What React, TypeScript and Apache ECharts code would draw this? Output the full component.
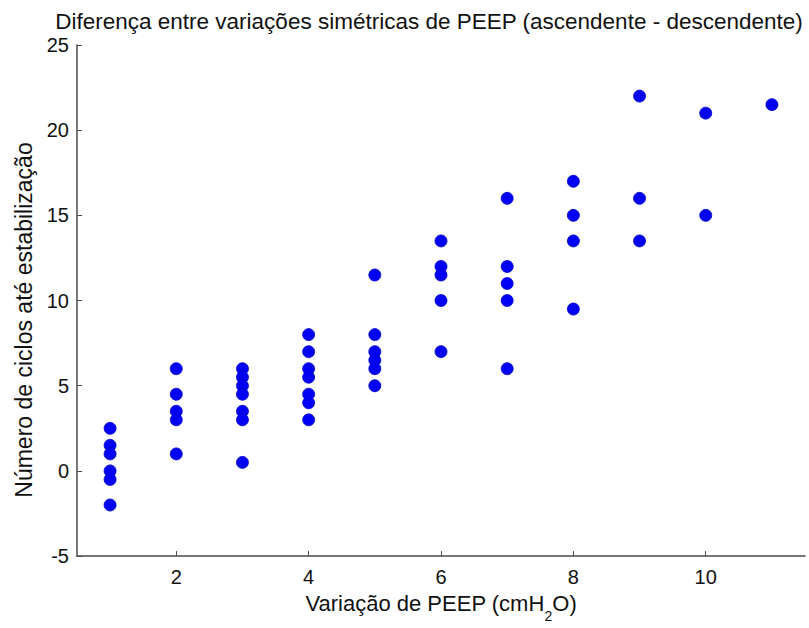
import React, { useEffect, useRef } from "react";
import * as echarts from "echarts";

const peepVariation = [1, 2, 3, 4, 5, 6, 7, 8, 9, 10, 11];
const cycles1 = [2.5, 1.5, 1, 0, -0.5, -2];
const cycles2 = [6, 4.5, 3.5, 3, 1];
const cycles3 = [6, 5.5, 5, 4.5, 3.5, 3, 0.5];
const cycles4 = [8, 7, 6, 5.5, 4.5, 4, 3];
const cycles5 = [11.5, 8, 7, 6.5, 6, 5];
const cycles6 = [13.5, 12, 11.5, 10, 7];
const cycles7 = [16, 12, 11, 10, 6];
const cycles8 = [17, 15, 13.5, 9.5];
const cycles9 = [22, 16, 13.5];
const cycles10 = [21, 15];
const cycles11 = [21.5];
const cyclesGroups = [cycles1, cycles2, cycles3, cycles4, cycles5, cycles6, cycles7, cycles8, cycles9, cycles10, cycles11];
const xTickValues = [2, 4, 6, 8, 10];

const titleText = "Diferença entre variações simétricas de PEEP (ascendente - descendente)";
const xName = "Variação de PEEP (cmH{sub|2}O)";
const yName = "Número de ciclos até estabilização";

const FONT = "'Liberation Sans', Arial, Helvetica, sans-serif";

export default function App() {
  const ref = useRef<HTMLDivElement>(null);
  useEffect(() => {
    if (!ref.current) return;
    const chart = echarts.init(ref.current, null, { renderer: "svg" });
    const points: number[][] = [];
    peepVariation.forEach((x, i) => {
      cyclesGroups[i].forEach((y) => points.push([x, y]));
    });
    const axisColor = "#4a4a4a";
    chart.setOption({
      animation: false,
      backgroundColor: "#ffffff",
      title: {
        text: titleText,
        left: 424,
        textAlign: "center",
        top: 5,
        textStyle: { fontFamily: FONT, fontSize: 22.5, fontWeight: "normal", color: "#111" },
      },
      graphic: [
        {
          type: "text",
          x: 24,
          y: 320,
          rotation: Math.PI / 2,
          style: {
            text: yName,
            fontFamily: FONT,
            fontSize: 23,
            fill: "#111",
            align: "center",
            verticalAlign: "middle",
          },
        },
      ],
      grid: { left: 77, right: 4, top: 45, bottom: 65, containLabel: false },
      xAxis: {
        type: "value",
        min: 0.5,
        max: 11.5,
        name: xName,
        nameLocation: "middle",
        nameGap: 34,
        nameTextStyle: {
          fontFamily: FONT,
          fontSize: 22,
          color: "#111",
          rich: { sub: { fontSize: 14, verticalAlign: "bottom", padding: [0, 0, -9, 0], fontFamily: FONT, color: "#111" } },
        },
        axisLine: { show: true, onZero: false, lineStyle: { color: axisColor, width: 1.5 } },
        axisTick: { show: true, inside: true, length: 5, customValues: xTickValues, lineStyle: { color: axisColor } },
        axisLabel: { customValues: xTickValues, fontFamily: FONT, fontSize: 20, color: "#111", margin: 11 },
        splitLine: { show: false },
      },
      yAxis: {
        type: "value",
        min: -5,
        max: 25,
        interval: 5,
        axisLine: { show: true, onZero: false, lineStyle: { color: axisColor, width: 1.5 } },
        axisTick: { show: true, inside: true, length: 5, lineStyle: { color: axisColor } },
        axisLabel: { fontFamily: FONT, fontSize: 20, color: "#111", margin: 8 },
        splitLine: { show: false },
      },
      series: [
        {
          type: "scatter",
          data: points,
          symbol: "circle",
          symbolSize: 12,
          itemStyle: { color: "#0000f5", borderColor: "#0000c8", borderWidth: 0.8, opacity: 1 },
        },
      ],
    });
    return () => chart.dispose();
  }, []);
  return <div ref={ref} style={{ position: "fixed", left: 0, top: 0, width: 809, height: 628 }} />;
}
